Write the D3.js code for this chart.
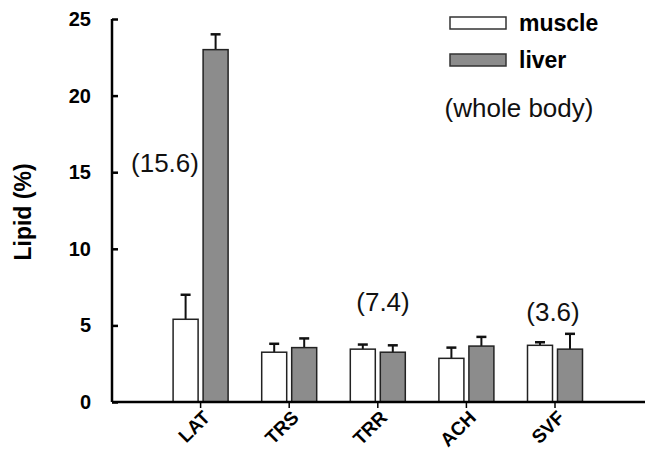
<!DOCTYPE html>
<html>
<head>
<meta charset="utf-8">
<script src="https://cdn.jsdelivr.net/npm/d3@7"></script>
<style>
  body { margin: 0; background: #fff; }
  svg { display: block; font-family: "Liberation Sans", Arial, sans-serif; }
</style>
</head>
<body>
<svg id="chart" width="651" height="452"></svg>
<script>
// data
const categories = ['LAT', 'TRS', 'TRR', 'ACH', 'SVF'];
const muscleVals = [5.4, 3.25, 3.45, 2.85, 3.7];
const muscleErr = [1.6, 0.55, 0.3, 0.7, 0.2];
const liverVals = [23.0, 3.55, 3.25, 3.65, 3.45];
const liverErr = [1.0, 0.6, 0.45, 0.6, 1.0];
const wholeBody = [{ cat: 'LAT', label: '(15.6)', v: 15.6 }, { cat: 'TRR', label: '(7.4)', v: 7.4 }, { cat: 'SVF', label: '(3.6)', v: 3.6 }];
const yTicks = [0, 5, 10, 15, 20, 25];

const svg = d3.select('#chart');
const x0 = 112, x1 = 645, yBase = 402, yTop = 19;
const step = 88.6;
const FONT = '"Liberation Sans", Arial, sans-serif';

const x = d3.scaleBand().domain(categories).range([x0 + step / 2, x0 + step / 2 + step * categories.length]);
const y = d3.scaleLinear().domain([0, 25]).range([yBase, yTop]);

const barW = 25, gap = 5;

// bars
const series = [
  { name: 'muscle', vals: muscleVals, err: muscleErr, fill: '#ffffff', off: -gap / 2 - barW },
  { name: 'liver', vals: liverVals, err: liverErr, fill: '#8c8c8c', off: gap / 2 }
];

series.forEach(s => {
  const g = svg.append('g');
  categories.forEach((c, i) => {
    const cx = x(c) + x.bandwidth() / 2;
    const bx = cx + s.off;
    // error bar (upper only)
    g.append('line')
      .attr('x1', bx + barW / 2).attr('x2', bx + barW / 2)
      .attr('y1', y(s.vals[i])).attr('y2', y(s.vals[i] + s.err[i]))
      .attr('stroke', '#111').attr('stroke-width', 2);
    g.append('line')
      .attr('x1', bx + barW / 2 - 5).attr('x2', bx + barW / 2 + 5)
      .attr('y1', y(s.vals[i] + s.err[i])).attr('y2', y(s.vals[i] + s.err[i]))
      .attr('stroke', '#111').attr('stroke-width', 2.5);
    g.append('rect')
      .attr('x', bx).attr('y', y(s.vals[i]))
      .attr('width', barW).attr('height', y(0) - y(s.vals[i]))
      .attr('fill', s.fill).attr('stroke', '#222').attr('stroke-width', 1.5);
  });
});

// y axis
const yAxis = svg.append('g').attr('transform', `translate(${x0},0)`)
  .call(d3.axisLeft(y).tickValues(yTicks).tickSize(-6).tickPadding(21).tickSizeOuter(0));
yAxis.select('.domain').attr('stroke', '#000').attr('stroke-width', 2.5).attr('d', `M0,${yTop}V${yBase}`);
yAxis.selectAll('.tick line').attr('stroke', '#000').attr('stroke-width', 2.5);
yAxis.selectAll('.tick text').attr('font-size', 20).attr('font-weight', 'bold').attr('fill', '#000')
  .attr('font-family', FONT);

// x axis (labels rebuilt inside rotated groups)
const xAxis = svg.append('g').attr('transform', `translate(0,${yBase})`)
  .call(d3.axisBottom(x).tickSize(6).tickSizeOuter(0));
xAxis.select('.domain').remove();
xAxis.append('line').attr('x1', x0).attr('x2', x1).attr('stroke', '#000').attr('stroke-width', 2.5);
xAxis.selectAll('.tick line').attr('stroke', '#000').attr('stroke-width', 1.5);
xAxis.selectAll('.tick text').remove();
xAxis.selectAll('.tick').append('g')
  .attr('transform', 'translate(6,12) rotate(-45)')
  .append('text')
  .attr('font-size', 19).attr('font-weight', 'bold').attr('fill', '#000')
  .attr('font-family', FONT)
  .attr('text-anchor', 'end')
  .attr('dy', '0.35em')
  .text(d => d);

// y title
svg.append('text')
  .attr('transform', `translate(31,212) rotate(-90)`)
  .attr('text-anchor', 'middle')
  .attr('font-size', 23).attr('font-weight', 'bold')
  .text('Lipid (%)');

// whole-body annotations
const annPos = { LAT: [165, 163], TRR: [383, 302], SVF: [553, 312] };
wholeBody.forEach(d => {
  svg.append('text')
    .attr('x', annPos[d.cat][0]).attr('y', annPos[d.cat][1])
    .attr('dy', '0.35em').attr('text-anchor', 'middle')
    .attr('font-size', 26).attr('fill', '#111')
    .text(d.label);
});

// legend
const legend = svg.append('g');
series.forEach((s, i) => {
  const ly = 17 + i * 37;
  legend.append('rect').attr('x', 450).attr('y', ly).attr('width', 56).attr('height', 12)
    .attr('fill', s.fill).attr('stroke', '#333').attr('stroke-width', 1.5);
  legend.append('text').attr('x', 519).attr('y', ly + 6).attr('dy', '0.35em')
    .attr('font-size', 23).attr('font-weight', 'bold').text(s.name);
});
legend.append('text').attr('x', 519).attr('y', 108).attr('dy', '0.35em')
  .attr('text-anchor', 'middle').attr('font-size', 26).attr('fill', '#111').text('(whole body)');
</script>
</body>
</html>
